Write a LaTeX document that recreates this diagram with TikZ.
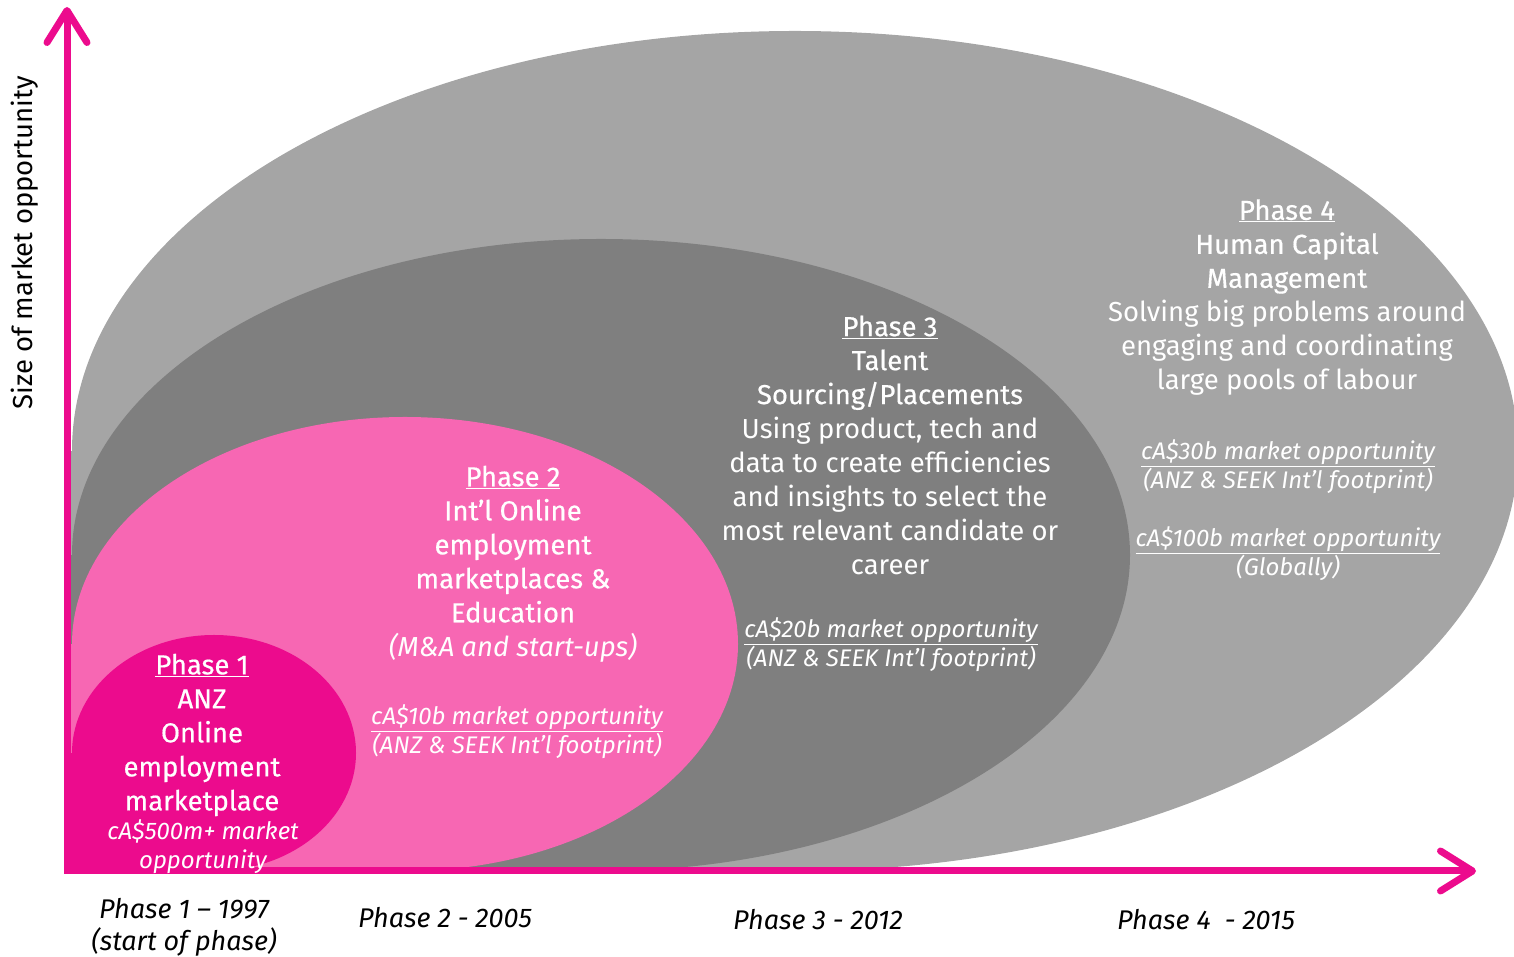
\documentclass[tikz,border=0pt]{standalone}
\usepackage{fontspec}
\setmainfont{Fira Sans}
\newfontfamily\headfont{Fira Sans}[FakeBold=0.5]
\usepackage{tikz}
\usetikzlibrary{arrows.meta, positioning}
\definecolor{seekmagenta}{HTML}{EC0B8D}
\definecolor{seekpink}{HTML}{F767B3}
\definecolor{darkgrey}{HTML}{7F7F7F}
\definecolor{lightgrey}{HTML}{A5A5A5}
\tikzset{
  phase/.style={align=center, text=white, font=\fontsize{27.5}{34}\selectfont},
  market/.style={align=center, text=white, font=\fontsize{24}{29}\selectfont\itshape},
  yearlabel/.style={align=center, text=black, font=\fontsize{27}{32}\selectfont\itshape},
  axislabel/.style={text=black, font=\fontsize{27.5}{30}\selectfont},
  axisline/.style={draw=seekmagenta, line width=7pt, line join=miter, >={Straight Barb[length=32pt,width=40pt,round]}, <->}
}

\begin{document}
\begin{tikzpicture}[x=1pt, y=1pt]
\useasboundingbox (0,0) rectangle (1514,957);

% Nested market bubbles, squared off into the corner of the axes
\begin{scope}
  \clip (71,86) rectangle (1514,957);
  \fill[lightgrey] (795,506) ellipse [x radius=723, y radius=420];
  \fill[lightgrey] (71,86) rectangle (795,506);
  \fill[darkgrey] (601,402) ellipse [x radius=529, y radius=316];
  \fill[darkgrey] (71,86) rectangle (601,402);
  \fill[seekpink] (405,313) ellipse [x radius=333, y radius=227];
  \fill[seekpink] (71,86) rectangle (405,313);
  \fill[seekmagenta] (214,204) ellipse [x radius=142, y radius=118];
  \fill[seekmagenta] (71,86) rectangle (214,204);
\end{scope}

% Axes
\coordinate (origin) at (67,86);
\coordinate (ytip) at (67,950);
\coordinate (xtip) at (1476,86);
\draw[axisline] (ytip) -- (origin) -- (xtip);
\node[axislabel, rotate=90] (ylab) at (25,714) {Size of market opportunity};

% Phase texts
\node[phase] (p4) at (1287,659.5) {{\headfont\underline{Phase 4}}\\{\headfont Human Capital}\\{\headfont Management}\\Solving big problems around\\engaging and coordinating\\large pools of labour};
\node[market] (m4) at (1288,447) {\underline{cA\$30b market opportunity}\\(ANZ \& SEEK Int’l footprint)\\[29pt]\underline{cA\$100b market opportunity}\\(Globally)};

\node[phase] (p3) at (890,512) {{\headfont\underline{Phase 3}}\\{\headfont Talent}\\{\headfont Sourcing/Placements}\\Using product, tech and\\data to create efficiencies\\and insights to select the\\most relevant candidate or\\career};
\node[market] (m3) at (891,312) {\underline{cA\$20b market opportunity}\\(ANZ \& SEEK Int’l footprint)};

\node[phase] (p2) at (513,393) {{\headfont\underline{Phase 2}}\\{\headfont Int’l Online}\\{\headfont employment}\\{\headfont marketplaces \&}\\{\headfont Education}\\{\itshape (M\&A and start-ups)}};
\node[market] (m2) at (517,225) {\underline{cA\$10b market opportunity}\\(ANZ \& SEEK Int’l footprint)};

\node[phase] (p1) at (202,222) {{\headfont\underline{Phase 1}}\\{\headfont ANZ}\\{\headfont Online}\\{\headfont employment}\\{\headfont marketplace}};
\node[market] (m1) at (203,110) {cA\$500m+ market\\opportunity};

% Timeline
\node[yearlabel] (y1) at (184,30) {Phase 1 – 1997\\(start of phase)};
\node[yearlabel] (y2) at (445,39) {Phase 2 - 2005};
\node[yearlabel] (y3) at (818,37) {Phase 3 - 2012};
\node[yearlabel] (y4) at (1206,37) {Phase 4 \ - 2015};
\end{tikzpicture}
\end{document}
